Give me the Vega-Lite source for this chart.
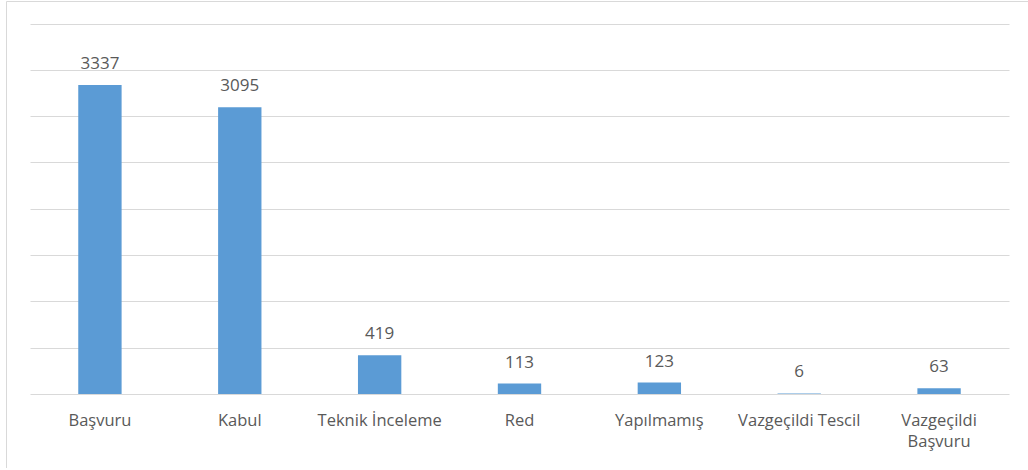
{
  "$schema": "https://vega.github.io/schema/vega-lite/v6.json",
  "autosize": {"type": "none"},
  "padding": {"left": 6, "top": 1, "right": 0, "bottom": 0},
  "width": 1030,
  "height": 467,
  "background": "white",
  "config": {
    "view": {"stroke": "#d9d9d9", "strokeWidth": 1},
    "font": "Open Sans"
  },
  "data": {
    "values": [
      {"kategori": "Başvuru", "deger": 3337},
      {"kategori": "Kabul", "deger": 3095},
      {"kategori": "Teknik İnceleme", "deger": 419},
      {"kategori": "Red", "deger": 113},
      {"kategori": "Yapılmamış", "deger": 123},
      {"kategori": "Vazgeçildi Tescil", "deger": 6},
      {"kategori": "Vazgeçildi Başvuru", "deger": 63}
    ]
  },
  "encoding": {
    "x": {
      "field": "kategori",
      "type": "nominal",
      "sort": null,
      "scale": {"range": [24, 1003], "paddingInner": 0.69, "paddingOuter": 0.345},
      "axis": {
        "title": null,
        "domain": false,
        "ticks": false,
        "grid": false,
        "offset": -74,
        "labelPadding": 18,
        "labelAngle": 0,
        "labelFontSize": 16.5,
        "labelColor": "#595959",
        "labelLineHeight": 21,
        "labelBaseline": "top",
        "labelExpr": "datum.value == 'Vazgeçildi Başvuru' ? ['Vazgeçildi', 'Başvuru'] : datum.value"
      }
    },
    "y": {
      "field": "deger",
      "type": "quantitative",
      "scale": {"domain": [0, 4000], "range": [393, 22.5], "nice": false},
      "axis": {
        "title": null,
        "domain": false,
        "ticks": false,
        "labels": false,
        "grid": true,
        "gridColor": "#d9d9d9",
        "gridWidth": 1,
        "values": [0, 500, 1000, 1500, 2000, 2500, 3000, 3500, 4000]
      }
    }
  },
  "layer": [
    {"mark": {"type": "bar", "color": "#5b9bd5"}},
    {
      "mark": {"type": "text", "baseline": "bottom", "dy": -12, "fontSize": 17, "color": "#595959"},
      "encoding": {"text": {"field": "deger", "type": "quantitative"}}
    }
  ]
}
